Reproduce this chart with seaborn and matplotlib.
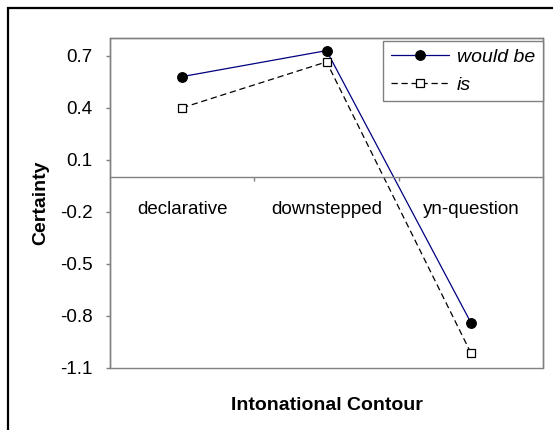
import matplotlib
matplotlib.use('Agg')
import matplotlib.pyplot as plt
from matplotlib.patches import Rectangle
import pandas as pd
import seaborn as sns

# values
contours = ['declarative', 'downstepped', 'yn-question']
would_be = [0.58, 0.73, -0.84]
is_vals = [0.40, 0.665, -1.015]
ytick_values = [-1.1, -0.8, -0.5, -0.2, 0.1, 0.4, 0.7]
ytick_labels = ['-1.1', '-0.8', '-0.5', '-0.2', '0.1', '0.4', '0.7']
category_bounds = [0.5, 1.5]

sns.set_theme(style='white')
plt.rcParams['font.family'] = ['Liberation Sans', 'DejaVu Sans']
plt.rcParams['text.color'] = 'black'
plt.rcParams['axes.labelcolor'] = 'black'

df = pd.DataFrame({
    'Contour': contours * 2,
    'Certainty': would_be + is_vals,
    'Verb': ['would be'] * 3 + ['is'] * 3,
})

fig = plt.figure(figsize=(5.53, 4.3), dpi=100)
ax = fig.add_axes([0.199, 0.145, 0.783, 0.7655])

sns.lineplot(data=df[df['Verb'] == 'would be'], x='Contour', y='Certainty', ax=ax,
             color='#000080', linewidth=0.9, marker='o', markersize=7,
             markerfacecolor='black', markeredgecolor='black', markeredgewidth=0.8,
             sort=False, label='would be')
sns.lineplot(data=df[df['Verb'] == 'is'], x='Contour', y='Certainty', ax=ax,
             color='black', linewidth=0.9, linestyle=(0, (5, 3)), marker='s', markersize=6,
             markerfacecolor='white', markeredgecolor='black', markeredgewidth=0.9,
             sort=False, label='is')

ax.set_xlim(-0.5, len(contours) - 0.5)
ax.set_ylim(-1.1, 0.8)
ax.set_yticks(ytick_values, labels=ytick_labels)

# category axis crosses at zero
ax.spines['bottom'].set_position(('data', 0))
for s in ax.spines.values():
    s.set_color('#808080')
    s.set_linewidth(1.0)
ax.patch.set_edgecolor('#808080')
ax.patch.set_linewidth(1.0)

ax.set_xticks(range(len(contours)), labels=contours)
ax.set_xticks(category_bounds, minor=True)
ax.tick_params(axis='x', which='major', length=0, pad=17, labelsize=13.5, colors='black')
ax.tick_params(axis='x', which='minor', bottom=True, length=3, width=1, color='#808080', direction='out')
ax.tick_params(axis='y', left=True, length=3, width=1, color='#808080', pad=9.5,
               labelsize=13.5, labelcolor='black', direction='out')

ax.set_xlabel('Intonational Contour', fontsize=14, fontweight='bold', color='black')
ax.set_ylabel('Certainty', fontsize=14, fontweight='bold', color='black')
ax.xaxis.set_label_coords(0.5, -0.09)
ax.yaxis.set_label_coords(-0.14, 0.5)

leg = ax.legend(loc='upper right', bbox_to_anchor=(1.0, 0.993), borderaxespad=0,
                frameon=True, fancybox=False, shadow=False, framealpha=1,
                prop={'style': 'italic', 'size': 14},
                handlelength=3.0, handletextpad=0.4, labelspacing=0.5,
                borderpad=0.4)
leg.get_frame().set_edgecolor('#808080')
leg.get_frame().set_linewidth(1.0)
for t in leg.get_texts():
    t.set_color('black')

# outer frame of the original picture (only left and top edges visible)
fig.add_artist(Rectangle((8 / 553, -0.1), 1.2, 0.9814 + 0.1, transform=fig.transFigure,
                         fill=False, edgecolor='black', linewidth=1.6, clip_on=False))

fig.savefig('out.png', dpi=100)
